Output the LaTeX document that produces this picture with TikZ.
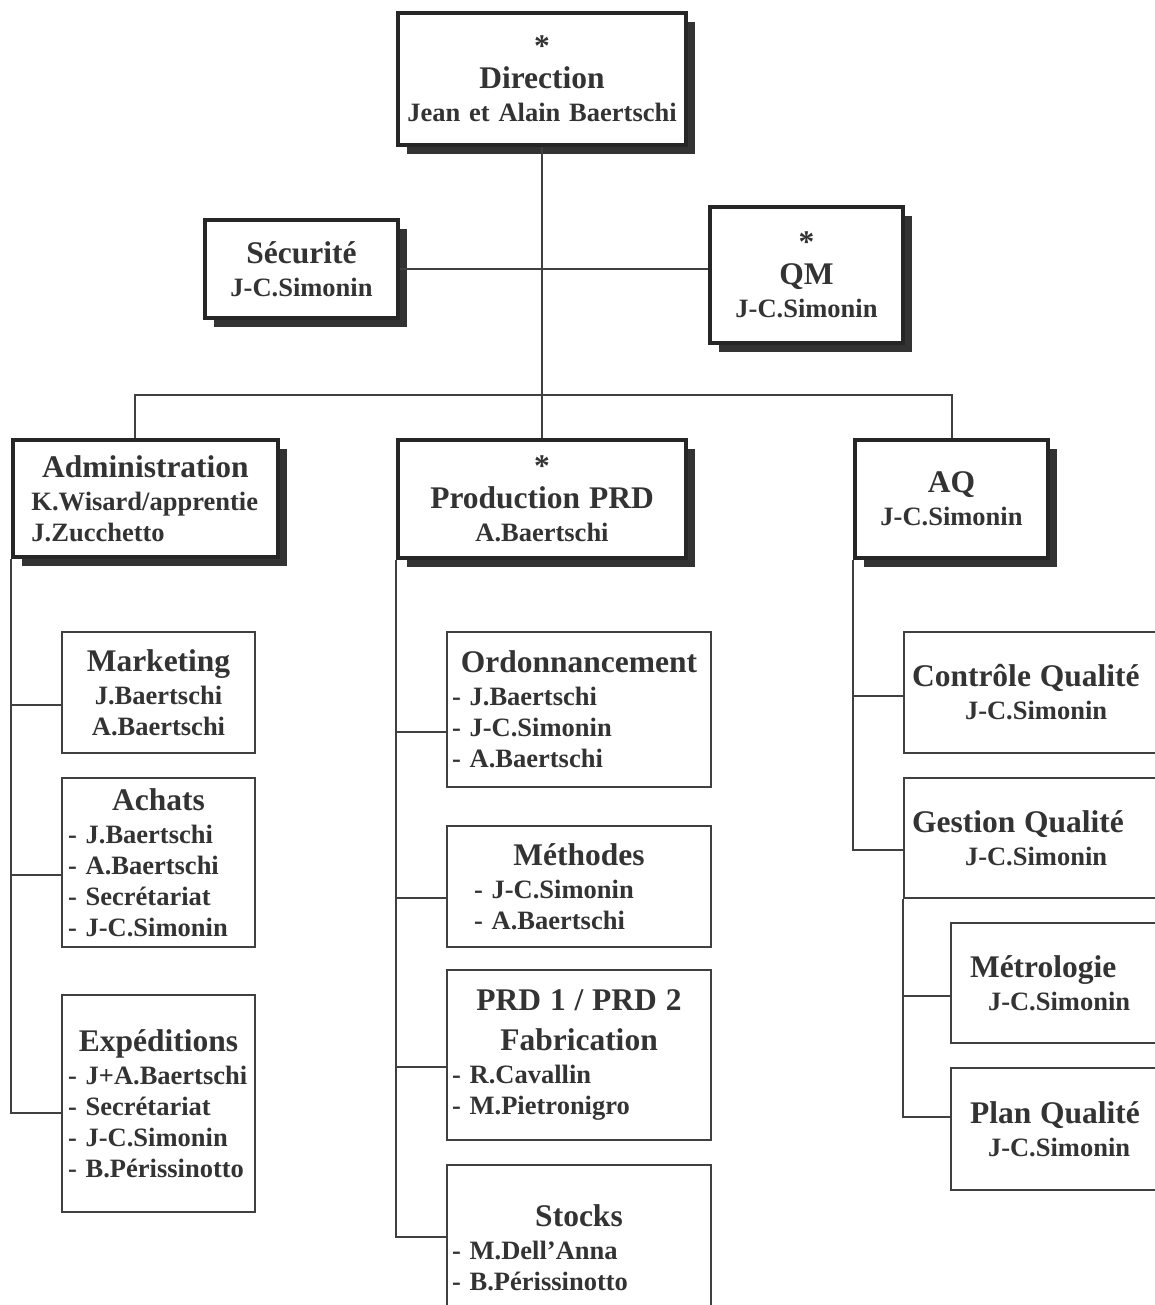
\documentclass[tikz,border=0pt]{standalone}
\usepackage{fontspec}
\setmainfont{Liberation Serif}
\usetikzlibrary{shadows}
\newcommand\namef{\fontsize{13.25}{15.5}\selectfont\bfseries}
\newcommand\titlef{\fontsize{15.75}{17}\selectfont\bfseries}
\newcommand\ttl[1]{\makebox[\linewidth]{\titlef #1}}

\begin{document}
\begin{tikzpicture}[x=0.5pt,y=-0.5pt]%
  %[pixel grid of the scan]
  \tikzstyle{headn}=[rectangle,draw=black!85,line width=1.75pt,fill=white,
    drop shadow={shadow xshift=4.5pt,shadow yshift=-4.5pt,fill=black!80,opacity=1},
    inner sep=0pt,font=\namef,text=black!80,align=center]
  \tikzstyle{subn}=[rectangle,draw=black!75,line width=1pt,fill=white,
    inner sep=0pt,font=\namef,text=black!80,align=left]
  \tikzstyle{conn}=[draw=black!75,line width=1pt]
  \useasboundingbox (0,0) rectangle (1155,1305);
  \clip (0,0) rectangle (1155,1305);
  \fill[white] (0,0) rectangle (1155,1305);
  \node(dir)[headn,minimum width=144pt,minimum height=66pt,text width=136pt] at (542,79)
    {\ttl{*}\\[0.5pt]\ttl{Direction}\\[1pt]Jean et Alain Baertschi};
  \node(secu)[headn,minimum width=96.5pt,minimum height=49pt,text width=90pt] at (301.5,269)
    {\ttl{Sécurité}\\[1pt]J-C.Simonin};
  \node(qm)[headn,minimum width=96.5pt,minimum height=68pt,text width=90pt] at (806.5,275)
    {\ttl{*}\\[0.5pt]\ttl{QM}\\[1pt]J-C.Simonin};
  \node(adm)[headn,align=left,minimum width=132.5pt,minimum height=58.5pt,text width=114pt] at (145.5,498.5)
    {\ttl{Administration}\\[1pt]K.Wisard/apprentie\\J.Zucchetto};
  \node(prod)[headn,minimum width=144pt,minimum height=59pt,text width=136pt] at (542,499)
    {\ttl{*}\\[0.5pt]\ttl{Production PRD}\\[1pt]A.Baertschi};
  \node(aq)[headn,minimum width=96.5pt,minimum height=59pt,text width=90pt] at (951.5,499)
    {\ttl{AQ}\\[1pt]J-C.Simonin};
  \node(mkt)[subn,align=center,minimum width=96.5pt,minimum height=60.5pt,text width=90.5pt] at (158.5,692.5)
    {\ttl{Marketing}\\[1pt]J.Baertschi\\A.Baertschi};
  \node(ach)[subn,minimum width=96.5pt,minimum height=84.5pt,text width=90.5pt] at (158.5,862.5)
    {\ttl{Achats}\\[1pt]- J.Baertschi\\- A.Baertschi\\- Secrétariat\\- J-C.Simonin};
  \node(exp)[subn,minimum width=96.5pt,minimum height=108.5pt,text width=90.5pt] at (158.5,1103.5)
    {\ttl{Expéditions}\\[1pt]- J+A.Baertschi\\- Secrétariat\\- J-C.Simonin\\- B.Périssinotto};
  \node(ord)[subn,minimum width=132pt,minimum height=77.5pt,text width=127pt] at (579,709.5)
    {\ttl{Ordonnancement}\\[1pt]- J.Baertschi\\- J-C.Simonin\\- A.Baertschi};
  \node(meth)[subn,minimum width=132pt,minimum height=60.5pt,text width=105pt] at (579,886.5)
    {\ttl{Méthodes}\\[1pt]- J-C.Simonin\\- A.Baertschi};
  \node(fab)[subn,minimum width=132pt,minimum height=85pt,text width=127pt] at (579,1055)
    {\ttl{PRD 1 / PRD 2}\\[4.5pt]\ttl{Fabrication}\\[1pt]- R.Cavallin\\- M.Pietronigro};
  \node(stk)[subn,minimum width=132pt,minimum height=83pt,text width=127pt] at (579,1248)
    {\ttl{Stocks}\\[1pt]- M.Dell’Anna\\- B.Périssinotto};
  \node(ctrl)[subn,minimum width=133pt,minimum height=60.5pt,text width=125pt] at (1037,692.5)
    {{\titlef Contrôle Qualité}\\[1pt]\hspace*{26.5pt}J-C.Simonin};
  \node(gest)[subn,minimum width=133pt,minimum height=60pt,text width=125pt] at (1037,838)
    {{\titlef Gestion Qualité}\\[1pt]\hspace*{26.5pt}J-C.Simonin};
  \node(metro)[subn,minimum width=109.5pt,minimum height=60pt,text width=90.5pt] at (1060.5,983)
    {{\titlef Métrologie}\\[1pt]\hspace*{9pt}J-C.Simonin};
  \node(plan)[subn,minimum width=109.5pt,minimum height=61pt,text width=90.5pt] at (1060.5,1129)
    {{\titlef Plan Qualité}\\[1pt]\hspace*{9pt}J-C.Simonin};
  \coordinate(bus) at (542,395);
  \draw[conn] (dir.south) -- (bus);
  \draw[conn] (secu.east) -- (secu.east -| qm.west);
  \draw[conn] ([xshift=-5.5pt]adm.north) |- (bus) -| (aq.north);
  \draw[conn] (bus) -- (prod.north);
  \draw[conn] (adm.south west) |- ([yshift=-6.25pt]mkt.west);
  \draw[conn] (adm.south west) |- ([yshift=-6.25pt]ach.west);
  \draw[conn] (adm.south west) |- ([yshift=-4.75pt]exp.west);
  \draw[conn] (prod.south west) |- ([yshift=-11.25pt]ord.west);
  \draw[conn] (prod.south west) |- ([yshift=-5.75pt]meth.west);
  \draw[conn] (prod.south west) |- ([yshift=-6pt]fab.west);
  \draw[conn] (prod.south west) |- ([yshift=5.5pt]stk.west);
  \draw[conn] (aq.south west) |- ([yshift=-1.75pt]ctrl.west);
  \draw[conn] (aq.south west) |- ([yshift=-6pt]gest.west);
  \draw[conn] (gest.south west) |- ([yshift=-6.5pt]metro.west);
  \draw[conn] (gest.south west) |- ([yshift=6pt]plan.west);
\end{tikzpicture}
\end{document}
